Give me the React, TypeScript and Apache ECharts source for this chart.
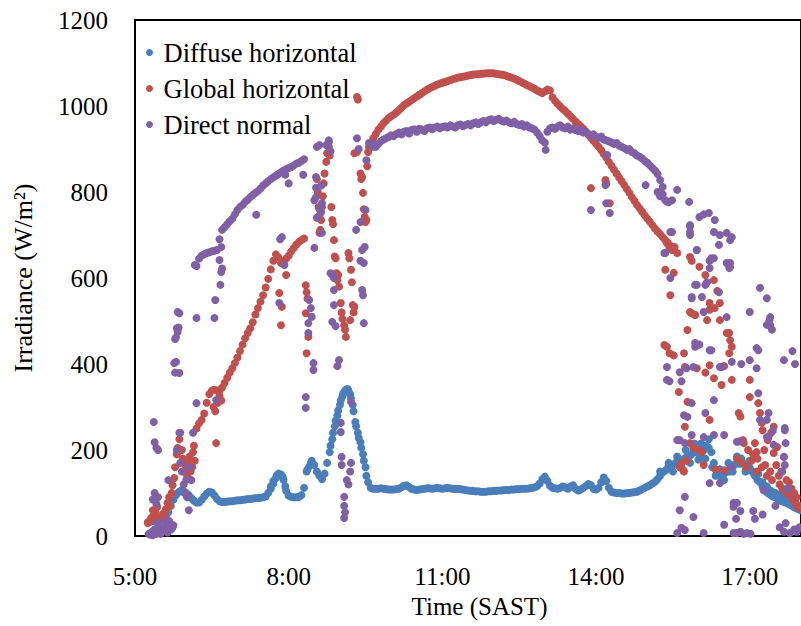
import React, { useEffect, useRef } from "react";
import * as echarts from "echarts";

// Times are minutes after midnight; values in W/m².
const STEP = 3;
const AXIS_START_MIN = 300; // 5:00

const seriesNames = ["Diffuse horizontal", "Global horizontal", "Direct normal"];
const xTickHours = [5, 8, 11, 14, 17];

// ---- Diffuse horizontal ----
const diffuseStart = 315;
const diffuseTrack = [
  32, 33, 35, 35, 33, 34, 38, 45, 55, 70,
  85, 95, 102, 106, 104, 100, 95, 88, 82, 78,
  78, 84, 92, 99, 103, 101, 94, 86, 81, 79,
  79, 80, 81, 81, 82, 83, 83, 84, 85, 86,
  86, 87, 88, 88, 89, 90, 92, 100, 110, 122,
  135, 145, 143, 130, 105, 94, 91, 90, 90, 91,
  95, 112, 150, 162, 175, 165, 150, 140, 132, 145,
  170, 195, 225, 255, 280, 305, 325, 338, 342, 330,
  305, 265, 240, 218, 190, 160, 125, 112, 110, 110,
  110, 111, 110, 109, 108, 108, 108, 109, 110, 113,
  117, 118, 114, 110, 108, 107, 108, 109, 110, 111,
  111, 110, 111, 112, 111, 110, 111, 112, 111, 110,
  109, 110, 109, 108, 107, 106, 105, 105, 104, 104,
  103, 103, 103, 104, 104, 105, 105, 106, 106, 107,
  107, 107, 108, 108, 109, 109, 110, 110, 110, 111,
  112, 113, 116, 122, 132, 138, 128, 117, 112, 111,
  110, 112, 115, 113, 110, 115, 118, 110, 106, 108,
  112, 116, 121, 118, 110, 108, 112, 125, 136, 128,
  112, 103, 101, 100, 100, 99, 99, 100, 100, 101,
  102, 103, 106, 109, 112, 115, 118, 122, 126, 132,
  140, 148, 152, 158, 162, 165, 170, 172, 168, 178,
  182, 175, 188, 195, 200, 192, 185, 200, 210, 205,
  195, 170, 150, 140, 137, 145, 152, 150, 160, 165,
  170, 168, 172, 165, 160, 158, 150, 140, 130, 125,
  115, 105, 100, 96, 92, 90, 86, 82, 80, 78,
  75, 72, 68, 65, 62, 60,
];
const diffuseExtra = [
  [459, 115], [462, 128], [466, 140], [473, 138], [476, 115], [502, 155], [506, 170],
  [529, 210], [532, 240], [535, 268], [538, 292], [541, 315], [544, 332], [547, 340],
  [550, 338], [553, 320], [556, 290], [559, 255], [562, 228], [565, 205], [568, 175], [571, 140],
  [915, 150], [925, 170], [930, 150], [935, 185], [940, 160], [945, 200], [950, 170],
  [955, 215], [960, 178], [963, 215], [968, 180], [972, 225], [976, 160], [980, 140],
  [985, 155], [990, 130], [995, 170], [1000, 150], [1005, 185], [1010, 180], [1015, 150],
  [1020, 175], [1025, 145], [1030, 145], [1035, 125], [1040, 115], [1045, 105], [1050, 100],
  [1055, 95], [1060, 85], [1065, 80], [1070, 75], [1075, 70],
];

// ---- Global horizontal ----
const globalEarly = [
  [315, 30], [317, 35], [319, 42], [321, 60], [322, 48], [324, 55], [326, 68], [327, 40],
  [329, 45], [331, 44], [333, 52], [335, 48], [336, 62], [338, 77], [340, 90], [341, 70],
  [343, 100], [344, 118], [346, 135], [347, 160], [349, 190], [350, 205], [352, 225],
  [353, 240], [355, 200], [356, 180], [358, 150], [359, 165], [361, 140], [362, 170],
  [364, 185], [365, 150], [367, 160], [368, 195], [369, 210], [370, 175],
  [392, 300], [394, 290], [395, 216], [397, 310], [399, 325], [401, 315],
];
const globalRampStart = 372;
const globalRamp = [
  250, 262, 270, 285, 310, 330, 338, 340, 338, 338,
  345, 356, 368, 380, 390, 402, 415, 430, 445, 460,
  472, 483, 497, 515, 530, 545, 560, 578, 598, 620,
  640, 655, 648, 635, 638, 645, 652, 662, 670, 678,
  684, 688, 692,
];
const globalCloudy = [
  [469, 565], [471, 490], [472, 533], [477, 607],
  [500, 583], [501, 567], [502, 552], [500, 518], [503, 463], [501, 425],
  [513, 830], [514, 800], [515, 765], [516, 745], [517, 712], [516, 705], [518, 735],
  [519, 765], [520, 790], [521, 820], [522, 843], [524, 870], [525, 890], [527, 905],
  [528, 885], [530, 765], [531, 735], [532, 725], [533, 688], [534, 650], [535, 646],
  [536, 611], [537, 595], [538, 607], [539, 580],
  [541, 542], [542, 520], [543, 505], [545, 490], [546, 480], [547, 463],
  [550, 658], [551, 646], [553, 619], [554, 590], [555, 537], [556, 520], [557, 533], [552, 502],
  [557, 890], [560, 893], [560, 1021], [561, 1015], [564, 843], [565, 830], [566, 835],
  [567, 798], [568, 760], [569, 742], [570, 730], [571, 735], [572, 860], [573, 893], [574, 905],
];
const globalNoonStart = 576;
const globalNoon = [
  905, 925, 935, 945, 952, 960, 966, 972, 976, 980,
  985, 990, 996, 1002, 1006, 1010, 1014, 1018, 1022, 1026,
  1030, 1034, 1038, 1041, 1044, 1047, 1050, 1052, 1054, 1056,
  1058, 1060, 1062, 1064, 1066, 1067, 1068, 1069, 1071, 1072,
  1073, 1074, 1074, 1075, 1075, 1076, 1076, 1076, 1076, 1075,
  1074, 1073, 1072, 1070, 1068, 1066, 1064, 1061, 1058, 1055,
  1052, 1049, 1046, 1043, 1040, 1036, 1033, 1030, 1034, 1038,
  1036, 1020, 1012, 1005, 999, 993, 988, 982, 976, 970,
  964, 958, 953, 947, 940, 933, 926, 919, 912, 905,
  897, 888, 880, 870, 861, 852, 843, 834, 825, 816,
  807, 798, 788, 779, 770, 762, 754, 746, 738, 731,
  723, 715, 708, 702, 695, 688, 682, 675,
];
const globalEvening = [
  [834, 809], [851, 828], [852, 820], [856, 774],
  [923, 681], [926, 670], [929, 665], [932, 672], [935, 658], [921, 619], [931, 612], [927, 560],
  [950, 649], [952, 640], [961, 626], [968, 607], [978, 595], [982, 570], [985, 542], [973, 526],
  [970, 502], [952, 518], [956, 514], [947, 479], [985, 502], [996, 472], [997, 455], [999, 440],
  [996, 425], [920, 444], [923, 440], [926, 425], [931, 420], [943, 425], [944, 393], [958, 390],
  [973, 397], [968, 380], [978, 367], [987, 351], [999, 363], [990, 395], [937, 335], [947, 312],
  [944, 254], [973, 270], [1007, 286], [1009, 278], [1020, 363], [1020, 323], [1030, 309],
  [1032, 286], [1034, 263], [1035, 246], [1013, 216], [1026, 216], [1028, 195], [1029, 180],
  [950, 216], [954, 205], [964, 195], [940, 170], [942, 153], [990, 153],
  [950, 521], [956, 514], [973, 542], [979, 530], [993, 472],
  [938, 160], [943, 150], [946, 175], [960, 200], [966, 165], [980, 155],
  [1005, 180], [1011, 170], [1016, 160], [1022, 175], [1028, 150], [1034, 160], [1040, 140],
  [1046, 130], [1048, 193], [1051, 165], [1055, 120], [1058, 110], [1063, 100], [1067, 95],
  [1070, 85], [1074, 75], [1077, 65], [1057, 150], [1063, 130], [1069, 110], [1052, 207],
  [1048, 254], [1045, 240], [1041, 223], [1037, 200], [1018, 200], [1012, 223], [1060, 184],
  [1072, 100], [1075, 90], [1079, 70], [1066, 125], [1054, 140], [1044, 150], [1038, 165], [1024, 190],
];

// ---- Direct normal ----
const directMorning = [
  [316, 5], [318, 3], [320, 10], [321, 2], [323, 15], [325, 5], [326, 30], [328, 8], [330, 5],
  [331, 18], [333, 12], [335, 35], [336, 20], [338, 8], [339, 25], [340, 35], [342, 15],
  [344, 20], [345, 25], [322, 265], [323, 218], [325, 205], [327, 200], [321, 85], [323, 100],
  [325, 75], [327, 90], [339, 130], [346, 402], [347, 380], [347, 458], [348, 462], [349, 483],
  [350, 521], [352, 240], [349, 200], [353, 170], [355, 150], [357, 120], [358, 100], [360, 130],
  [361, 90], [362, 95], [363, 60], [364, 160], [366, 130], [368, 240], [372, 507], [372, 309],
  [393, 507], [394, 549], [395, 316], [400, 584], [401, 614], [402, 622], [399, 642], [401, 672],
  [352, 518], [351, 485], [350, 475], [348, 405], [352, 379], [370, 630],
  [442, 747], [470, 690], [472, 695], [469, 542], [475, 630], [480, 820], [476, 840], [497, 840],
];
const directTrackStart = 372;
const directTrack = [
  628, 645, 652, 655, 658, 660, 662, 663, 665, 690,
  712, 718, 725, 732, 738, 748, 758, 765, 770, 777,
  782, 788, 793, 798, 802, 808, 815, 820, 825, 830,
  834, 838, 842, 846, 850, 853, 856, 858, 862, 866,
  868, 872, 876,
];
const directCloudy = [
  [513, 905], [516, 909], [524, 909], [527, 915], [529, 895], [527, 920], [510, 781], [519, 774],
  [518, 753], [519, 705], [510, 670], [531, 607], [512, 835], [512, 810], [512, 788], [518, 815],
  [516, 760], [513, 740], [504, 549], [506, 530], [507, 510], [503, 495], [503, 472], [509, 402],
  [509, 386], [500, 323], [500, 298], [529, 611], [533, 600], [533, 572], [533, 537], [531, 498],
  [535, 488], [539, 409], [537, 395], [541, 263], [541, 242], [542, 184], [542, 165], [545, 91],
  [545, 70], [546, 55], [545, 42], [548, 130], [552, 150], [553, 170], [550, 120], [553, 312],
  [568, 495], [567, 560], [568, 635], [569, 672], [570, 758], [559, 712], [571, 874], [560, 925],
  [562, 900], [574, 914], [564, 730], [566, 665], [564, 640], [566, 572], [578, 905], [580, 912],
];
const directNoonStart = 582;
const directNoon = [
  905, 912, 918, 922, 925, 928, 932, 930, 935, 938,
  934, 940, 942, 936, 944, 946, 940, 947, 945, 942,
  948, 950, 946, 950, 952, 948, 951, 953, 950, 955,
  953, 950, 955, 957, 953, 956, 958, 955, 960, 962,
  958, 962, 965, 962, 967, 969, 965, 968, 970, 966,
  964, 966, 962, 960, 963, 958, 956, 958, 952, 955,
  950, 948, 945, 938, 930, 920, 915, 940, 948, 950,
  947, 952, 955, 950, 948, 952, 945, 948, 944, 942,
  945, 938, 940, 935, 932, 934, 928, 926, 929, 922,
  920, 918, 915, 912, 914, 908, 905, 902, 898, 900,
  893, 890, 885, 882, 878, 872, 868, 862, 856, 850,
  842, 828, 812,
];
const directEvening = [
  [781, 898], [834, 758], [851, 816], [852, 774], [856, 751], [853, 886], [898, 816],
  [923, 778], [929, 781], [935, 805], [949, 777], [950, 723], [961, 742], [966, 748], [972, 751],
  [979, 735], [978, 707], [985, 700], [993, 705], [999, 695], [997, 688], [984, 677], [950, 707],
  [958, 665], [975, 646], [993, 635], [997, 625], [927, 707], [920, 658], [927, 600], [958, 584],
  [970, 590], [1032, 577], [1040, 553], [973, 640], [952, 556], [964, 556], [915, 790], [912, 800],
  [918, 795], [921, 781], [925, 776],
  [1020, 521], [1043, 502], [1046, 480], [1044, 490], [1030, 432], [1060, 409], [1020, 409],
  [1028, 390], [1030, 332], [1032, 270], [1042, 286], [1042, 230], [1048, 212], [1061, 246],
  [1062, 216], [1060, 184], [1061, 165], [1058, 150], [1064, 110], [1055, 20], [1060, 10],
  [1067, 7], [1072, 15], [990, 26], [1001, 7], [1005, 7], [1009, 10], [1013, 5], [1004, 40],
  [1026, 40], [1001, 68], [1001, 77], [985, 123], [998, 160], [1036, 107], [1005, 219], [990, 235],
  [1008, 220], [978, 235], [966, 230], [944, 216], [952, 235], [935, 223], [943, 281], [968, 286],
  [952, 309], [978, 316], [985, 393], [954, 393], [946, 390], [923, 393], [923, 363], [926, 360],
  [956, 449], [961, 445], [975, 432], [966, 521], [952, 553], [956, 584], [968, 584], [984, 567],
  [973, 623], [993, 509], [996, 623], [997, 635], [978, 646], [958, 665], [950, 719], [950, 700],
  [921, 658], [929, 707], [938, 60], [944, 91], [954, 44], [935, 7], [940, 19], [944, 14], [966, 7],
  [938, 381], [940, 360], [947, 277], [956, 440], [973, 432], [987, 393], [999, 405], [1040, 491],
  [1044, 509], [1028, 437], [1040, 230], [1047, 245], [1010, 400], [1040, 270], [1061, 251],
  [938, 223], [973, 123], [1005, 77], [1009, 58], [1024, 58], [1035, 50], [1050, 70], [1062, 30],
  [1075, 10], [1078, 20], [1017, 7], [1021, 5], [1070, 430], [1073, 400],
];

const COLORS = ["#4A7EBB", "#C0504D", "#7F60A5"];
const FONT = "Liberation Serif";

function toHours(min: number) {
  return (min - AXIS_START_MIN) / 60;
}
function track(start: number, values: number[]) {
  return values.map((v, i) => [toHours(start + i * STEP), v]);
}
function pts(list: number[][]) {
  return list.map(([m, v]) => [toHours(m), v]);
}

export default function App() {
  const ref = useRef<HTMLDivElement>(null);
  useEffect(() => {
    if (!ref.current) return;
    const chart = echarts.init(ref.current, undefined, { renderer: "svg" });
    const seriesData = [
      [...track(diffuseStart, diffuseTrack), ...pts(diffuseExtra)],
      [
        ...pts(globalEarly),
        ...track(globalRampStart, globalRamp),
        ...pts(globalCloudy),
        ...track(globalNoonStart, globalNoon),
        ...pts(globalEvening),
      ],
      [
        ...pts(directMorning),
        ...track(directTrackStart, directTrack),
        ...pts(directCloudy),
        ...track(directNoonStart, directNoon),
        ...pts(directEvening),
      ],
    ];
    chart.setOption({
      animation: false,
      textStyle: { fontFamily: FONT },
      grid: {
        left: 135,
        top: 20,
        right: -3,
        bottom: 90,
        show: true,
        borderColor: "#000",
        borderWidth: 2,
      },
      legend: {
        orient: "vertical",
        left: 141,
        top: 34,
        icon: "circle",
        itemWidth: 18,
        itemHeight: 7,
        itemGap: 9,
        data: seriesNames,
        textStyle: { fontFamily: FONT, fontSize: 26.5, color: "#000", lineHeight: 26 },
      },
      xAxis: {
        type: "value",
        min: 0,
        max: 13,
        interval: 3,
        name: "Time (SAST)",
        nameLocation: "middle",
        nameGap: 56,
        nameTextStyle: { fontFamily: FONT, fontSize: 25, color: "#000", padding: [0, 0, 0, 23] },
        axisLine: { show: true, lineStyle: { color: "#000", width: 2 } },
        axisTick: { show: false },
        splitLine: { show: false },
        axisLabel: {
          fontFamily: FONT,
          fontSize: 25,
          color: "#000",
          margin: 28,
          showMaxLabel: false,
          formatter: (v: number) => {
            const h = v + 5;
            return xTickHours.includes(h) ? `${h}:00` : "";
          },
        },
      },
      yAxis: {
        type: "value",
        min: 0,
        max: 1200,
        interval: 200,
        name: "Irradiance (W/m²)",
        nameLocation: "middle",
        nameGap: 99,
        nameRotate: 90,
        nameTextStyle: { fontFamily: FONT, fontSize: 26, color: "#000" },
        axisLine: { show: true, lineStyle: { color: "#000", width: 2 } },
        axisTick: { show: false },
        splitLine: { show: false },
        axisLabel: {
          fontFamily: FONT,
          fontSize: 25,
          color: "#000",
          margin: 27,
          formatter: (v: number) => String(v),
        },
      },
      series: seriesNames.map((name, i) => ({
        name,
        type: "scatter",
        symbol: "circle",
        symbolSize: 8,
        itemStyle: { color: COLORS[i], opacity: 1 },
        data: seriesData[i],
      })),
    });
    return () => chart.dispose();
  }, []);
  return (
    <div
      ref={ref}
      style={{ position: "fixed", left: 0, top: 0, width: 801, height: 626, background: "#fff" }}
    />
  );
}
